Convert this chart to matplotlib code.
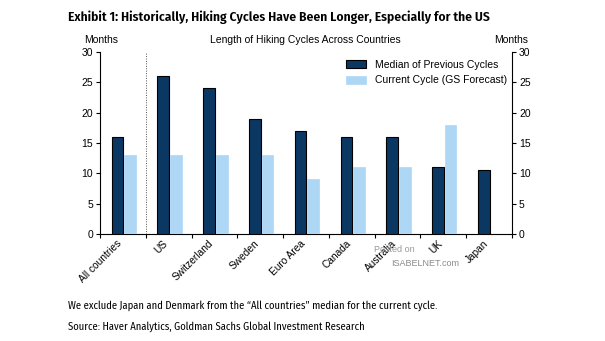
import matplotlib
matplotlib.use("Agg")
import matplotlib.pyplot as plt
import matplotlib.transforms as mtransforms
import numpy as np

categories = ["All countries", "US", "Switzerland", "Sweden", "Euro Area",
              "Canada", "Australia", "UK", "Japan"]
median_previous = [16, 26, 24, 19, 17, 16, 16, 11, 10.5]
current_cycle = [13, 13, 13, 13, 9, 11, 11, 18, np.nan]
y_ticks = [0, 5, 10, 15, 20, 25, 30]

DARK = "#0b3862"
LIGHT = "#aed6f5"
COND = ["Fira Sans Condensed", "DejaVu Sans"]

plt.rcParams["font.family"] = ["Liberation Sans", "DejaVu Sans"]

fig = plt.figure(figsize=(6.05, 3.41), dpi=100)
ax = fig.add_axes([100 / 605, 1 - 234 / 341, 412 / 605, 182 / 341])

x = np.arange(len(categories))
w = 0.255
ax.bar(x - 0.117, median_previous, w, color=DARK, edgecolor="black",
       linewidth=0.8, label="Median of Previous Cycles", zorder=3)
ax.bar(x + 0.16, current_cycle, w, color=LIGHT, edgecolor=LIGHT,
       linewidth=0.5, label="Current Cycle (GS Forecast)", zorder=3)

ax.set_xlim(-0.5, len(categories) - 0.5)
ax.set_ylim(0, 30)
ax.set_yticks(y_ticks)
ax.tick_params(axis="y", labelsize=7.5, length=3, width=0.8, pad=2)

# category boundaries as tick marks, names centred between them
ax.set_xticks(np.arange(len(categories) + 1) - 0.5)
ax.set_xticklabels([])
ax.tick_params(axis="x", length=3, width=0.8)
ax.set_xticks(x, minor=True)
labels = ax.set_xticklabels(categories, minor=True, rotation=45, ha="right",
                            rotation_mode="anchor", fontsize=7.3)
ax.tick_params(axis="x", which="minor", length=0, pad=3)
shift = mtransforms.ScaledTranslation(-6 / 100, 0, fig.dpi_scale_trans)
for lab in labels:
    lab.set_transform(lab.get_transform() + shift)

ax.spines["top"].set_visible(False)
ax.spines["right"].set_visible(False)
for s in ["left", "bottom"]:
    ax.spines[s].set_linewidth(0.8)

ax2 = ax.twinx()
ax2.set_ylim(0, 30)
ax2.set_yticks(y_ticks)
ax2.tick_params(axis="y", labelsize=7.5, length=3, width=0.8, pad=2)
ax2.spines["top"].set_visible(False)
ax2.spines["left"].set_visible(False)
ax2.spines["bottom"].set_visible(False)
ax2.spines["right"].set_linewidth(0.8)

ax.axvline(0.5, color="#555555", linestyle=(0, (1, 1.5)), linewidth=0.7, zorder=1)

ax.legend(loc="upper right", bbox_to_anchor=(1.01, 1.01), frameon=False,
          fontsize=7.5, handlelength=1.95, handleheight=0.85, labelspacing=0.55,
          handletextpad=0.8)

fig.text(68 / 605, 1 - 17 / 341,
         "Exhibit 1: Historically, Hiking Cycles Have Been Longer, Especially for the US",
         fontsize=9.7, fontweight="semibold", family=COND, va="center", ha="left")
fig.text(101 / 605, 1 - 40 / 341, "Months", fontsize=7.5, ha="center", va="center")
fig.text(511 / 605, 1 - 40 / 341, "Months", fontsize=7.5, ha="center", va="center")
fig.text(305 / 605, 1 - 40 / 341, "Length of Hiking Cycles Across Countries",
         fontsize=7.5, ha="center", va="center")

fig.text(394 / 605, 1 - 250 / 341, "Posted on", fontsize=6.5, color="#999999",
         ha="center", va="center")
fig.text(391 / 605, 1 - 263 / 341, "ISABELNET.com", fontsize=6.5, color="#8a8a8a",
         ha="left", va="center")

fig.text(68 / 605, 1 - 306 / 341,
         "We exclude Japan and Denmark from the \u201cAll countries\u201d median for the current cycle.",
         fontsize=7.6, family=COND, ha="left", va="center")
fig.text(68 / 605, 1 - 327 / 341,
         "Source: Haver Analytics, Goldman Sachs Global Investment Research",
         fontsize=7.6, family=COND, ha="left", va="center")

fig.savefig("out.png", dpi=100)
